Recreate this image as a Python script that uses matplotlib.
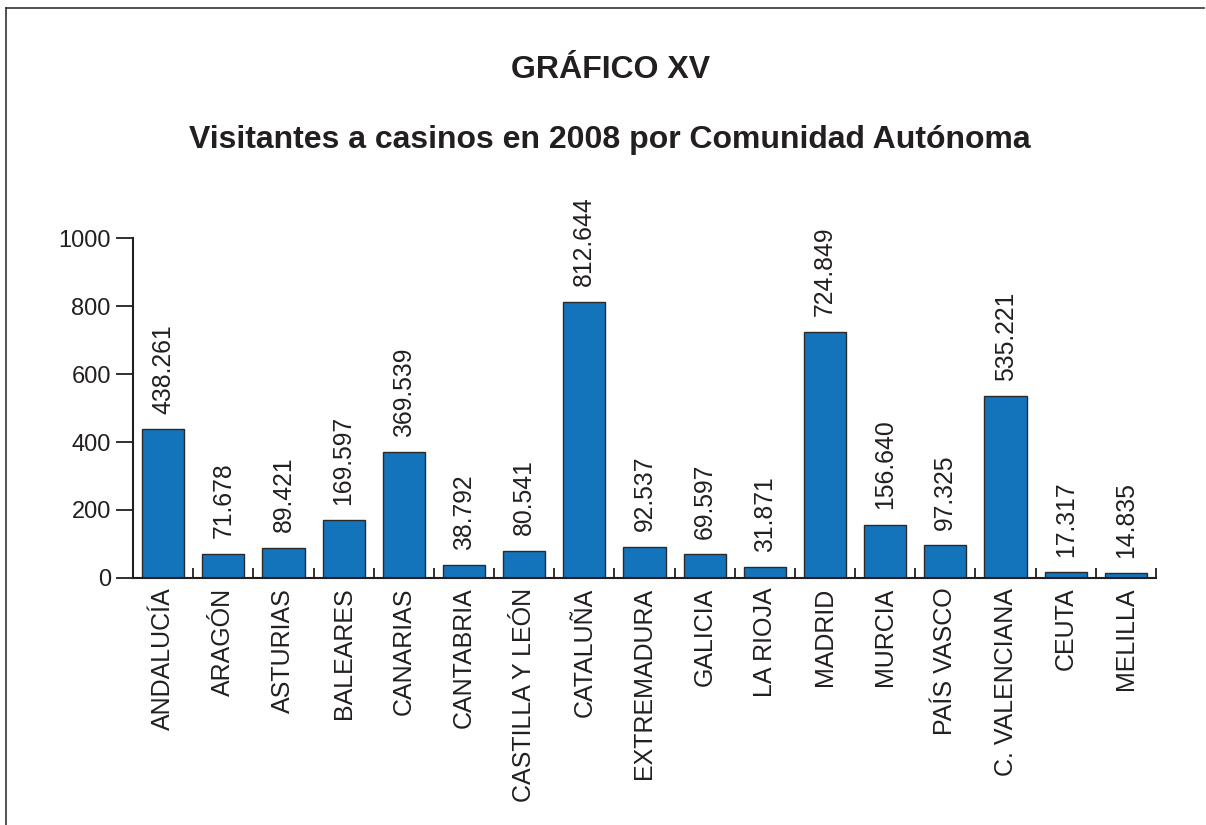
import matplotlib
matplotlib.use("Agg")
import matplotlib.pyplot as plt
from matplotlib.lines import Line2D
import numpy as np

plt.rcParams['font.family'] = ['Liberation Sans', 'DejaVu Sans']

# datos: visitantes por comunidad autónoma (personas)
comunidades = ["ANDALUCÍA", "ARAGÓN", "ASTURIAS", "BALEARES", "CANARIAS",
               "CANTABRIA", "CASTILLA Y LEÓN", "CATALUÑA", "EXTREMADURA",
               "GALICIA", "LA RIOJA", "MADRID", "MURCIA", "PAÍS VASCO",
               "C. VALENCIANA", "CEUTA", "MELILLA"]
visitantes = [438261, 71678, 89421, 169597, 369539, 38792, 80541, 812644,
              92537, 69597, 31871, 724849, 156640, 97325, 535221, 17317,
              14835]
yticks = [0, 200, 400, 600, 800, 1000]

ink = '#231f20'
azul = '#1373bb'

fig = plt.figure(figsize=(12.06, 8.25), dpi=100)
ax = fig.add_axes([0.1103, 0.2994, 0.8482, 0.4121])

x = np.arange(len(comunidades))
miles = [v / 1000 for v in visitantes]
ax.bar(x, miles, width=0.7, color=azul, edgecolor='#2a2a2a', linewidth=1.0)

# etiquetas de valor encima de cada barra
for xi, m, v in zip(x, miles, visitantes):
    txt = f"{v:,}".replace(",", ".")
    ax.annotate(txt, (xi, m), xytext=(0, 11), textcoords='offset points',
                rotation=90, ha='center', va='bottom', fontsize=17.8, color=ink)

ax.set_xlim(-0.5, len(comunidades) - 0.5)
ax.set_ylim(0, 1000)
ax.set_yticks(yticks)
ax.set_xticks(x)
ax.set_xticklabels(comunidades, rotation=90, fontsize=18, color=ink)
ax.set_xticks(np.arange(len(comunidades)) + 0.5, minor=True)

ax.tick_params(axis='x', which='major', length=0, pad=7)
ax.tick_params(axis='x', which='minor', direction='in', length=7,
               width=1.3, color=ink)
ax.tick_params(axis='y', direction='out', length=12, width=1.3, pad=4,
               labelsize=17, color=ink, labelcolor=ink)

for s in ['top', 'right']:
    ax.spines[s].set_visible(False)
for s in ['left', 'bottom']:
    ax.spines[s].set_linewidth(1.5)
    ax.spines[s].set_color(ink)

fig.text(0.506, 0.915, "GRÁFICO XV", ha='center', va='center',
         fontsize=23, fontweight='bold', color=ink)
fig.text(0.506, 0.830, "Visitantes a casinos en 2008 por Comunidad Autónoma",
         ha='center', va='center', fontsize=23, fontweight='bold', color=ink)

# marco parcial (izquierda y arriba)
fig.add_artist(Line2D([0.005, 0.005], [0.0, 0.990], color='#333333', lw=1.2))
fig.add_artist(Line2D([0.005, 0.998], [0.990, 0.990], color='#333333', lw=1.2))

fig.savefig("out.png", dpi=100)
